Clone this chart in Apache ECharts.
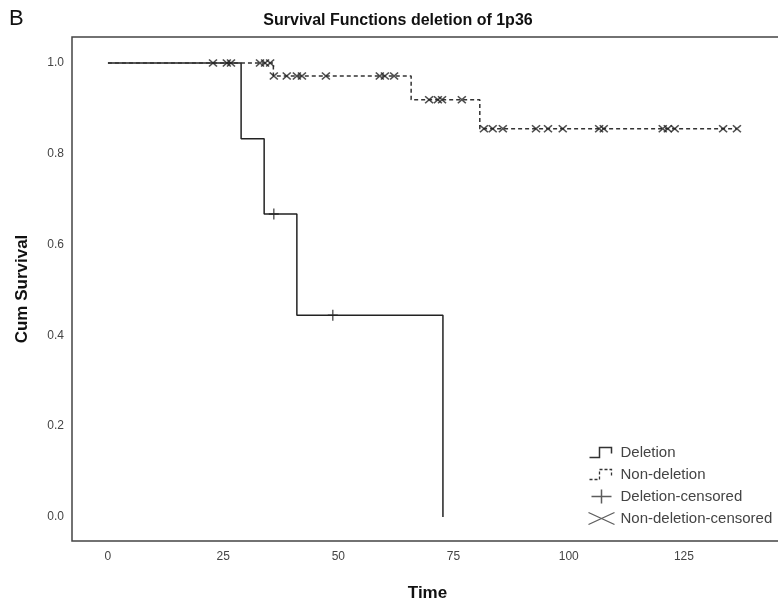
<!DOCTYPE html>
<html>
<head>
<meta charset="utf-8">
<script src="https://cdn.jsdelivr.net/npm/echarts@6/dist/echarts.min.js"></script>
<style>
  html, body { margin: 0; padding: 0; background: #fff; }
  #chart { width: 778px; height: 603px; }
</style>
</head>
<body>
<div id="chart"></div>
<script>
// Kaplan-Meier steps (time, cumulative survival)
const delTimes = [0, 28.9, 33.9, 41.0, 72.7]
const delSurv = [1.0, 0.833, 0.667, 0.444, 0.0]
const nonTimes = [0, 35.9, 65.8, 80.7, 136.5]
const nonSurv = [1.0, 0.971, 0.919, 0.855, 0.855]

// censored observation times
const delCensored = [36.0, 48.8]
const nonCensored = [
  22.8, 25.8, 26.7, 33.0, 34.1, 35.2,
  36.0, 38.8, 41.0, 42.1, 47.3, 59.0, 60.1, 62.1,
  69.7, 71.6, 72.5, 76.8,
  81.6, 83.5, 85.7, 92.9, 95.5, 98.7, 106.6, 107.6, 120.4, 121.5, 123.0, 133.5, 136.5
]

const xTicks = [0, 25, 50, 75, 100, 125]
const yTicks = [0, 0.2, 0.4, 0.6, 0.8, 1.0]

const FONT = '"Liberation Sans", Arial, sans-serif'
const INK = '#333'

function survAt (times, surv, t) {
  let s = surv[0]
  for (let i = 0; i < times.length; i++) {
    if (times[i] <= t) s = surv[i]
  }
  return s
}

const delLine = delTimes.map((t, i) => [t, delSurv[i]])
const nonLine = nonTimes.map((t, i) => [t, nonSurv[i]])
const delCens = delCensored.map(t => [t, survAt(delTimes, delSurv, t)])
const nonCens = nonCensored.map(t => [t, survAt(nonTimes, nonSurv, t)])

const stepPath = 'path://M0 0 M28 14 M2 12 H12 V2 H24 V8'
const plusPath = 'path://M0 0 M28 14 M4 7 H24 M14 0 V14'
const crossPath = 'path://M0 0 M28 14 M1 1 L27 13 M1 13 L27 1'

const chart = echarts.init(document.getElementById('chart'))
chart.setOption({
  animation: false,
  backgroundColor: '#fff',
  title: {
    text: 'Survival Functions deletion of 1p36',
    left: 393,
    textAlign: 'center',
    top: 8,
    textStyle: { fontFamily: FONT, fontSize: 16, fontWeight: 'bold', color: '#111' }
  },
  graphic: [{
    type: 'text',
    left: 9,
    top: 8,
    style: { text: 'B', fontFamily: FONT, fontSize: 22, fill: '#111' }
  }],
  grid: {
    left: 72,
    top: 37,
    bottom: 62,
    right: -5,
    outerBoundsMode: 'none',
    containLabel: false,
    show: true,
    borderColor: '#444',
    borderWidth: 1.5
  },
  xAxis: {
    type: 'value',
    min: -7.8,
    max: 146.5,
    name: 'Time',
    nameLocation: 'middle',
    nameGap: 44,
    nameMoveOverlap: false,
    nameTextStyle: { fontFamily: FONT, fontSize: 17, fontWeight: 'bold', color: '#111' },
    axisLine: { show: false },
    axisTick: { show: false },
    splitLine: { show: false },
    axisLabel: {
      customValues: xTicks,
      margin: 10,
      fontFamily: FONT,
      fontSize: 12,
      color: '#444'
    }
  },
  yAxis: {
    type: 'value',
    min: -0.053,
    max: 1.057,
    name: 'Cum Survival',
    nameLocation: 'middle',
    nameRotate: 90,
    nameGap: 41,
    nameMoveOverlap: false,
    nameTextStyle: { fontFamily: FONT, fontSize: 17, fontWeight: 'bold', color: '#111' },
    axisLine: { show: false },
    axisTick: { show: false },
    splitLine: { show: false },
    axisLabel: {
      customValues: yTicks,
      margin: 8,
      fontFamily: FONT,
      fontSize: 12,
      color: '#444',
      formatter: v => v.toFixed(1)
    }
  },
  legend: {
    orient: 'vertical',
    left: 580,
    top: 438,
    itemWidth: 28,
    itemHeight: 14,
    itemGap: 3,
    selectedMode: false,
    textStyle: { fontFamily: FONT, fontSize: 15, color: '#444' },
    data: [
      { name: 'Deletion', icon: stepPath, itemStyle: { color: 'none', borderColor: INK, borderWidth: 1.5, borderType: 'solid' } },
      { name: 'Non-deletion', icon: stepPath, itemStyle: { color: 'none', borderColor: INK, borderWidth: 1.3, borderType: [3, 2] } },
      { name: 'Deletion-censored', icon: plusPath, itemStyle: { color: 'none', borderColor: INK, borderWidth: 1.5 } },
      { name: 'Non-deletion-censored', icon: crossPath, itemStyle: { color: 'none', borderColor: INK, borderWidth: 1.3 } }
    ]
  },
  series: [
    {
      name: 'Deletion',
      type: 'line',
      step: 'end',
      symbol: 'none',
      color: '#222',
      lineStyle: { color: '#222', width: 1.5 },
      data: delLine
    },
    {
      name: 'Non-deletion',
      type: 'line',
      step: 'end',
      symbol: 'none',
      color: '#333',
      lineStyle: { color: '#333', width: 1.5, type: [4, 3] },
      data: nonLine
    },
    {
      name: 'Deletion-censored',
      type: 'scatter',
      symbol: 'path://M0 5 H10 M5 0 V10',
      symbolSize: [10, 11],
      itemStyle: { color: 'none', borderColor: '#222', borderWidth: 1.4 },
      z: 3,
      data: delCens
    },
    {
      name: 'Non-deletion-censored',
      type: 'scatter',
      symbol: 'path://M0 0 L8 7 M0 7 L8 0',
      symbolSize: [8, 7],
      itemStyle: { color: 'none', borderColor: '#222', borderWidth: 1.5 },
      z: 3,
      data: nonCens
    }
  ]
})
</script>
</body>
</html>
